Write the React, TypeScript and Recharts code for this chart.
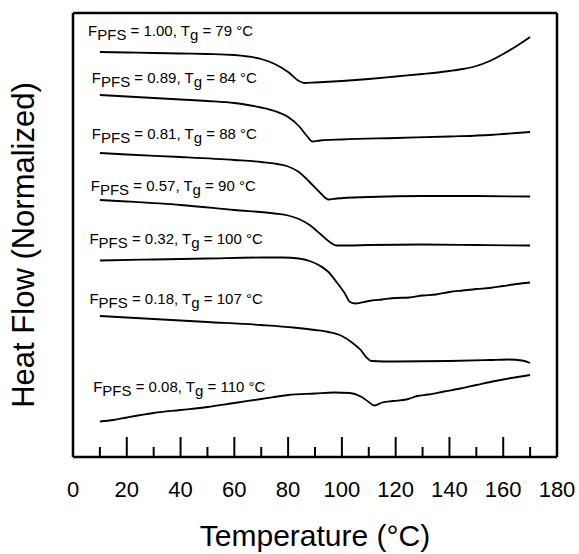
import React from "react";
import { LineChart, Line, XAxis, YAxis, ReferenceDot } from "recharts";

// DSC traces, one per PFS fraction. Temperature in °C, heat flow in arbitrary
// normalized units (traces are offset vertically, higher = up).

const majorTicks = [0, 20, 40, 60, 80, 100, 120, 140, 160, 180];
const minorTicks = [10, 30, 50, 70, 90, 110, 130, 150, 170];

const fractions = ["1.00", "0.89", "0.81", "0.57", "0.32", "0.18", "0.08"];
const glassTemps = [79, 84, 88, 90, 100, 107, 110];

const temps1 = [10, 20, 30, 40, 50, 60, 65, 70, 75, 80, 84, 86, 90, 100, 110, 120, 130, 140, 145, 150, 155, 160, 165, 170];
const flow1 = [405, 404.5, 404, 403.5, 403, 402, 400.5, 398, 393, 385, 376, 374, 374.5, 376, 378, 380.5, 383, 386, 388, 391, 396, 403, 411, 420];

const temps2 = [10, 20, 30, 40, 50, 60, 65, 70, 75, 80, 84, 87, 89, 92, 100, 120, 140, 155, 160, 170];
const flow2 = [362, 360.5, 359, 357.5, 356, 354, 352, 349.5, 346, 340, 331, 321, 315.5, 316.5, 317.5, 319, 320.5, 322, 323, 325];

const temps3 = [10, 20, 40, 60, 70, 76, 80, 84, 88, 92, 95, 98, 110, 130, 150, 170];
const flow3 = [304, 302.5, 300, 297, 295, 293, 290.5, 285, 275, 264, 257.5, 258.5, 260, 261, 261, 260.5];

const temps4 = [10, 20, 40, 60, 75, 80, 84, 88, 92, 95, 98, 102, 110, 130, 150, 170];
const flow4 = [257, 255.5, 252, 247, 243.5, 241.5, 238, 232, 223, 216, 211.5, 211.5, 212, 212.5, 212, 211.5];

const temps5 = [10, 30, 50, 70, 78, 84, 88, 92, 95, 98, 101, 103, 105, 110, 115, 120, 125, 130, 135, 140, 145, 150, 155, 160, 165, 170];
const flow5 = [196.5, 197.5, 198.5, 199.5, 199.5, 198.5, 196, 191, 185, 175, 164, 155, 153.5, 156, 157.5, 159, 159.5, 161.5, 162.5, 165, 166.5, 168, 169, 171, 173, 174.5];

const temps6 = [10, 30, 50, 70, 82, 90, 95, 100, 104, 107, 109, 111, 120, 140, 155, 162, 167, 170];
const flow6 = [141, 138, 135, 132, 129.5, 127, 125, 121, 114, 107, 100, 96, 95.5, 96, 97, 97.5, 96.5, 94];

const temps7 = [10, 15, 20, 30, 40, 50, 60, 70, 80, 90, 97, 103, 107, 110, 112, 115, 119, 124, 128, 132, 138, 144, 150, 156, 163, 170];
const flow7 = [35.5, 37, 39.5, 44, 47, 50, 54, 58, 62, 63.5, 64.5, 64, 60.5, 55, 51.5, 54.5, 56, 57.5, 61, 62.5, 65.5, 68.5, 72, 75.5, 79, 82];

// where each "F_PFS = ..., Tg = ..." caption starts (temperature, heat flow)
const labelTemps = [5.6, 7.0, 7.0, 6.6, 6.1, 6.1, 7.5];
const labelFlows = [421, 374, 318, 266, 213, 153, 65];

const font = "'Liberation Sans', Arial, sans-serif";
const TICK_MARGIN = 24;

const allTicks = [...majorTicks, ...minorTicks].sort((a, b) => a - b);

const traces = [
  [temps1, flow1],
  [temps2, flow2],
  [temps3, flow3],
  [temps4, flow4],
  [temps5, flow5],
  [temps6, flow6],
  [temps7, flow7],
].map(([ts, fs]) => ts.map((t, i) => ({ t, h: fs[i] })));

// inward tick marks (long on labelled ticks, short between) plus the number
function TempTick(props: any) {
  const { x, y, payload } = props;
  const axisY = y - TICK_MARGIN;
  const major = majorTicks.includes(payload.value);
  return (
    <g>
      <line x1={x} x2={x} y1={axisY} y2={axisY - (major ? 20 : 10)} stroke="#000" strokeWidth={2} />
      {major && (
        <text x={x} y={y} dy="0.71em" textAnchor="middle" fontSize={22} fontFamily={font} fill="#000">
          {payload.value}
        </text>
      )}
    </g>
  );
}

function captionContent(f: string, tg: number) {
  return (props: any) => {
    const vb = props.viewBox || {};
    return (
      <text x={vb.x} y={vb.y} fontSize={15} fontFamily={font} fill="#000" style={{ whiteSpace: "pre" }}>
        F<tspan dy={4}>PFS</tspan>
        <tspan dy={-4}>{` = ${f}, T`}</tspan>
        <tspan dy={4}>g</tspan>
        <tspan dy={-4}>{` = ${tg} °C`}</tspan>
      </text>
    );
  };
}

function XLabel(props: any) {
  const vb = props.viewBox;
  return (
    <text x={vb.x + vb.width / 2} y={vb.y + 89} textAnchor="middle" fontSize={30} fontFamily={font} fill="#000">
      Temperature (°C)
    </text>
  );
}

function YLabel(props: any) {
  const vb = props.viewBox;
  const cx = vb.x + 34;
  const cy = vb.y + vb.height / 2 + 10;
  return (
    <text x={cx} y={cy} transform={`rotate(-90, ${cx}, ${cy})`} textAnchor="middle" fontSize={31} fontFamily={font} fill="#000">
      Heat Flow (Normalized)
    </text>
  );
}

const frame = { stroke: "#000", strokeWidth: 2.5 };

export default function App() {
  return (
    <div style={{ position: "absolute", left: 0, top: 0, width: 579, height: 554, background: "#fff" }}>
      <LineChart width={579} height={554} margin={{ top: 13, right: 22, bottom: 37, left: 0 }}>
        <XAxis
          xAxisId="main"
          type="number"
          dataKey="t"
          domain={[0, 180]}
          ticks={allTicks}
          interval={0}
          allowDataOverflow
          tickLine={false}
          axisLine={frame}
          tick={TempTick}
          tickSize={0}
          tickMargin={TICK_MARGIN}
          height={60}
          label={{ content: XLabel }}
        />
        <XAxis
          xAxisId="top"
          orientation="top"
          type="number"
          domain={[0, 180]}
          mirror
          height={5}
          tick={false}
          tickLine={false}
          axisLine={frame}
        />
        <YAxis
          yAxisId="main"
          type="number"
          domain={[0, 444]}
          allowDataOverflow
          width={73}
          tick={false}
          tickLine={false}
          axisLine={frame}
          label={{ content: YLabel }}
        />
        <YAxis
          yAxisId="right"
          orientation="right"
          type="number"
          domain={[0, 444]}
          mirror
          width={5}
          tick={false}
          tickLine={false}
          axisLine={frame}
        />
        {traces.map((data, i) => (
          <Line
            key={i}
            xAxisId="main"
            yAxisId="main"
            data={data}
            dataKey="h"
            type="monotone"
            stroke="#000"
            strokeWidth={1.8}
            dot={false}
            activeDot={false}
            isAnimationActive={false}
          />
        ))}
        {fractions.map((f, i) => (
          <ReferenceDot
            key={f}
            xAxisId="main"
            yAxisId="main"
            x={labelTemps[i]}
            y={labelFlows[i]}
            r={0}
            fill="none"
            stroke="none"
            label={{ content: captionContent(f, glassTemps[i]) }}
          />
        ))}
      </LineChart>
    </div>
  );
}
